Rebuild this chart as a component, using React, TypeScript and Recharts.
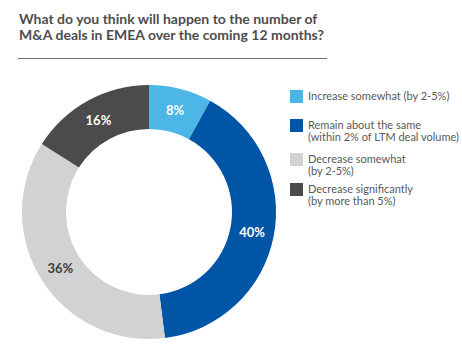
import React from "react";
import { PieChart, Pie, Cell, Legend } from "recharts";

const titleLines = [
  "What do you think will happen to the number of",
  "M&A deals in EMEA over the coming 12 months?",
];

const categories = [
  ["Increase somewhat (by 2-5%)"],
  ["Remain about the same", "(within 2% of LTM deal volume)"],
  ["Decrease somewhat", "(by 2-5%)"],
  ["Decrease significantly", "(by more than 5%)"],
];

const shares = [8, 40, 36, 16];

const colors = ["#4cb6e7", "#0055a6", "#d1d2d4", "#4b4b4d"];
const labelColors = ["#ffffff", "#ffffff", "#3c3c3c", "#ffffff"];
const rowHeights = [29, 34, 30, 30];

const data = categories.map((lines, i) => ({
  name: lines.join(" "),
  lines,
  value: shares[i],
}));

const RAD = Math.PI / 180;
const FONT = "Lato, 'Open Sans', sans-serif";

const renderLabel = (props: any) => {
  const { cx, cy, midAngle, innerRadius, outerRadius, value, index } = props;
  const r = (innerRadius + outerRadius) / 2;
  const x = cx + r * Math.cos(-midAngle * RAD);
  const y = cy + r * Math.sin(-midAngle * RAD);
  return (
    <text
      x={x}
      y={y}
      fill={labelColors[index]}
      textAnchor="middle"
      dominantBaseline="central"
      fontFamily={FONT}
      fontWeight={700}
      fontSize={13}
    >
      {`${value}%`}
    </text>
  );
};

const LegendBox = () => (
  <div style={{ fontFamily: FONT, fontSize: 11, color: "#58595b" }}>
    {data.map((d, i) => (
      <div key={d.name} style={{ position: "relative", height: rowHeights[i] }}>
        <div
          style={{
            position: "absolute",
            left: 0,
            top: 0,
            width: 13,
            height: 13,
            background: colors[i],
          }}
        />
        <div
          style={{
            position: "absolute",
            left: 18,
            top: 0,
            lineHeight: "12px",
            whiteSpace: "nowrap",
          }}
        >
          {d.lines.map((l) => (
            <div key={l}>{l}</div>
          ))}
        </div>
      </div>
    ))}
  </div>
);

export default function App() {
  return (
    <div style={{ position: "absolute", left: 0, top: 0, width: 462, height: 362, background: "#fff" }}>
      <div
        style={{
          position: "absolute",
          left: 19,
          top: 11,
          width: 308,
          fontFamily: FONT,
          fontWeight: 700,
          fontSize: 14,
          lineHeight: "16px",
          color: "#4d4d4f",
        }}
      >
        {titleLines.map((t) => (
          <div key={t}>{t}</div>
        ))}
      </div>
      <div
        style={{
          position: "absolute",
          left: 18,
          top: 58,
          width: 309,
          height: 0,
          borderTop: "1px solid #6d6e70",
        }}
      />
      <PieChart width={462} height={362} style={{ position: "absolute", left: 0, top: 0 }}>
        <Pie
          data={data}
          dataKey="value"
          nameKey="name"
          cx={144}
          cy={207}
          innerRadius={83}
          outerRadius={127}
          startAngle={90}
          endAngle={-270}
          stroke="none"
          label={renderLabel}
          labelLine={false}
          isAnimationActive={false}
        >
          {data.map((d, i) => (
            <Cell key={d.name} fill={colors[i]} />
          ))}
        </Pie>
        <Legend
          layout="vertical"
          content={() => <LegendBox />}
          wrapperStyle={{ position: "absolute", left: 290, top: 90, width: 170 }}
        />
      </PieChart>
    </div>
  );
}
